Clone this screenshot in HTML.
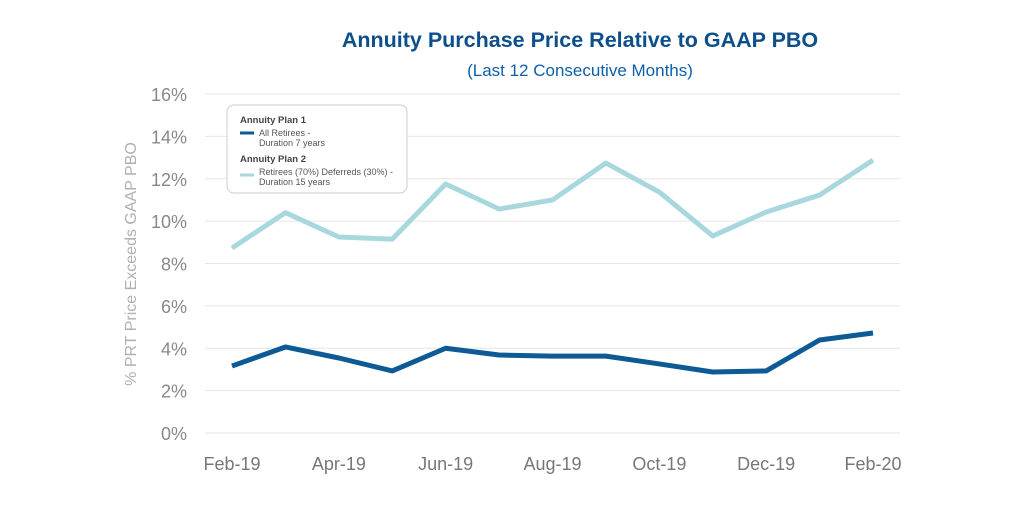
<!DOCTYPE html>
<html><head><meta charset="utf-8"><style>
body{margin:0;background:#fff;font-family:"Liberation Sans",sans-serif}
</style></head><body>
<svg width="1024" height="512" xmlns="http://www.w3.org/2000/svg">
<text x="580" y="47" text-anchor="middle" font-size="21.5" font-weight="bold" fill="#0d4f8b">Annuity Purchase Price Relative to GAAP PBO</text>
<text x="580" y="76" text-anchor="middle" font-size="17" fill="#0d5fa8">(Last 12 Consecutive Months)</text>
<text transform="translate(136,264) rotate(-90)" text-anchor="middle" font-size="16" fill="#b0b0b0">% PRT Price Exceeds GAAP PBO</text>
<g id="grid"></g><g id="yt"></g><g id="xt"></g><g id="lines"></g>
<g>
<rect x="227" y="105" width="180" height="88" rx="7" fill="#fff" stroke="#ccc"/>
<text x="240" y="123" font-size="9.5" font-weight="bold" fill="#444">Annuity Plan 1</text>
<line x1="240" y1="133" x2="254" y2="133" stroke="#0d5a94" stroke-width="3"/>
<text x="259" y="136" font-size="9" fill="#555">All Retirees -</text>
<text x="259" y="146" font-size="9" fill="#555">Duration 7 years</text>
<text x="240" y="162" font-size="9.5" font-weight="bold" fill="#444">Annuity Plan 2</text>
<line x1="240" y1="175" x2="254" y2="175" stroke="#a8d8de" stroke-width="3"/>
<text x="259" y="175" font-size="9" fill="#555">Retirees (70%) Deferreds (30%) -</text>
<text x="259" y="185" font-size="9" fill="#555">Duration 15 years</text>
</g>
</svg>
<script>
const categories=["Feb-19","Mar-19","Apr-19","May-19","Jun-19","Jul-19","Aug-19","Sep-19","Oct-19","Nov-19","Dec-19","Jan-20","Feb-20"];
const plan1=[3.16,4.06,3.54,2.93,4.0,3.68,3.63,3.63,3.26,2.88,2.93,4.39,4.72];
const plan2=[8.73,10.4,9.25,9.15,11.75,10.57,11.0,12.74,11.37,9.3,10.43,11.23,12.88];
const yTicks=[0,2,4,6,8,10,12,14,16];
const ns="http://www.w3.org/2000/svg";
const X=i=>232+i*(873-232)/12, Y=v=>433-v*(433-94)/16;
function mk(p,t,a){const e=document.createElementNS(ns,t);for(const k in a)e.setAttribute(k,a[k]);document.getElementById(p).appendChild(e);return e;}
yTicks.forEach(v=>{
 const g=mk('grid','line',{x1:205,x2:900,y1:Y(v),y2:Y(v),stroke:'#e6e6e6'});
 
 
 const t=mk('yt','text',{x:187,y:Y(v)+7,'text-anchor':'end','font-size':18,fill:'#888'});
 t.textContent=v+'%';
 
 
});
categories.forEach((c,i)=>{ if(i%2)return;
 const t=mk('xt','text',{x:X(i),y:470,'text-anchor':'middle','font-size':18,fill:'#777'});
 t.textContent=c;
 
 
});
[[plan2,'#a8d8de','line-plan-2'],[plan1,'#0d5a94','line-plan-1']].forEach(([d,c,n])=>{
 const p=mk('lines','polyline',{points:d.map((v,i)=>X(i)+','+Y(v)).join(' '),fill:'none',stroke:c,'stroke-width':5,'stroke-linejoin':'round'});
 
 
});
</script>
</body></html>
